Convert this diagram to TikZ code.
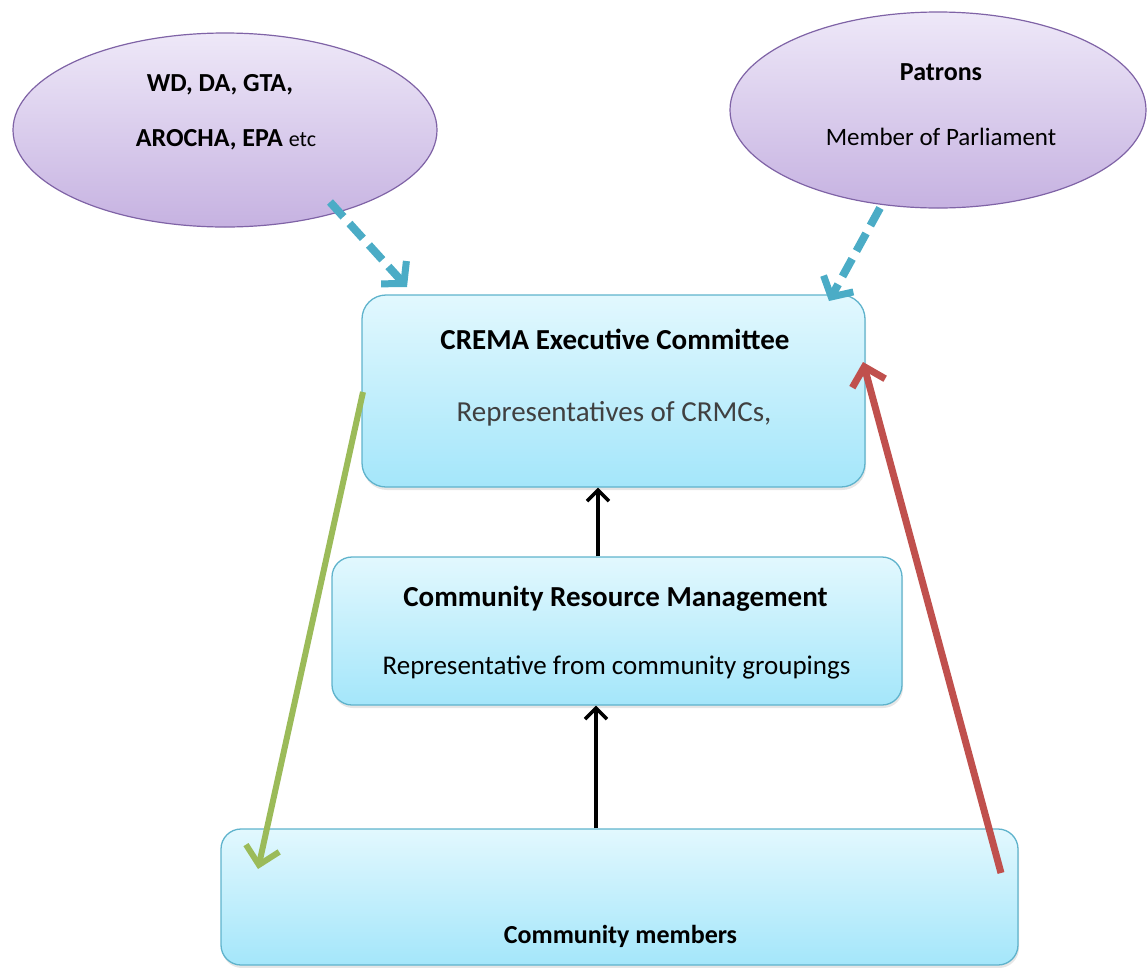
\documentclass[tikz,border=0pt]{standalone}
\usepackage{fontspec}
\setmainfont{Carlito}
\usetikzlibrary{arrows.meta,shapes.geometric,shadows}
\definecolor{boxtop}{HTML}{E2F8FE}
\definecolor{boxbot}{HTML}{A4E6FA}
\definecolor{boxline}{HTML}{5FB3CC}
\definecolor{elltop}{HTML}{EEE8F8}
\definecolor{ellbot}{HTML}{C6B2E1}
\definecolor{ellline}{HTML}{7F63A6}
\definecolor{dashcol}{HTML}{4BACC6}
\definecolor{greencol}{HTML}{9BBB59}
\definecolor{redcol}{HTML}{C0504D}
\definecolor{subgrey}{HTML}{404040}
\begin{document}
\begin{tikzpicture}[x=1pt,y=-1pt,
  boxnode/.style={draw=boxline,line width=1.3pt,top color=boxtop,bottom color=boxbot,inner sep=0pt,
    drop shadow={opacity=0.2,shadow xshift=1pt,shadow yshift=-3pt}},
  ellnode/.style={ellipse,draw=ellline,line width=1.2pt,top color=elltop,bottom color=ellbot,inner sep=0pt},
  bigbold/.style={inner sep=0pt,anchor=base,font=\fontsize{29}{33}\selectfont\bfseries},
  bigreg/.style={inner sep=0pt,anchor=base,font=\fontsize{29}{33}\selectfont,text=subgrey},
  midbold/.style={inner sep=0pt,anchor=base,font=\fontsize{26}{30}\selectfont\bfseries},
  midreg/.style={inner sep=0pt,anchor=base,font=\fontsize{25}{30}\selectfont},
  dasharrow/.style={draw=dashcol,line width=8pt,dash pattern=on 20pt off 9pt,
    -{Straight Barb[length=15pt,width=34pt,line width=7pt]}},
  blackarrow/.style={draw=black,line width=3.5pt,-{Straight Barb[length=11pt,width=22pt,line width=3.5pt]}},
  greenarrow/.style={draw=greencol,line width=6pt,-{Straight Barb[length=17pt,width=34pt,line width=6pt]}},
  redarrow/.style={draw=redcol,line width=7pt,-{Straight Barb[length=17pt,width=34pt,line width=7pt]}}
]
\useasboundingbox (0,0) rectangle (1148,967);

% ellipses
\node[ellnode,minimum width=424pt,minimum height=194pt] (ell1) at (225,130) {};
\node[ellnode,minimum width=416pt,minimum height=196pt] (ell2) at (938,110) {};
\node[midbold] (ell1a) at (220,91.5) {WD, DA, GTA,};
\node[midbold] (ell1b) at (226,146.5) {AROCHA, EPA \mdseries\fontsize{22}{26}\selectfont etc};
\node[midbold] (ell2a) at (941,80.5) {Patrons};
\node[midreg] (ell2b) at (941,145) {Member of Parliament};

% boxes
\node[boxnode,rounded corners=24pt,minimum width=503pt,minimum height=192pt] (crema) at (613.5,391) {};
\node[boxnode,rounded corners=20pt,minimum width=570pt,minimum height=148pt] (crm) at (617,631) {};
\node[boxnode,rounded corners=20pt,minimum width=797pt,minimum height=136pt] (cm) at (619.5,897) {};

\node[bigbold] (crematitle) at (615,349.5) {CREMA Executive Committee};
\node[bigreg] (cremasub) at (614,421.5) {Representatives of CRMCs,};
\node[bigbold] (crmtitle) at (615.5,606.5) {Community Resource Management};
\node[inner sep=0pt,anchor=base,font=\fontsize{27}{31}\selectfont] (crmsub) at (616.5,674) {Representative from community groupings};
\node[midbold] (cmtext) at (620.5,943) {Community members};

% connector end points
\coordinate (d1s) at (330,202);
\coordinate (d1e) at (407,287);
\coordinate (d2s) at (880,208);
\coordinate (d2e) at (829,301);
\coordinate (gs) at (363,392);
\coordinate (ge) at (258,869);
\coordinate (rs) at (1001,873);
\coordinate (re) at (863,362);

\draw[dasharrow] (d1s) -- (d1e);
\draw[dasharrow] (d2s) -- (d2e);
\draw[blackarrow] (crm.north -| 598,0) -- (crema.south -| 598,0);
\draw[blackarrow] (cm.north -| 596,0) -- (crm.south -| 596,0);
\draw[greenarrow] (gs) -- (ge);
\draw[redarrow] (rs) -- (re);
\end{tikzpicture}
\end{document}
